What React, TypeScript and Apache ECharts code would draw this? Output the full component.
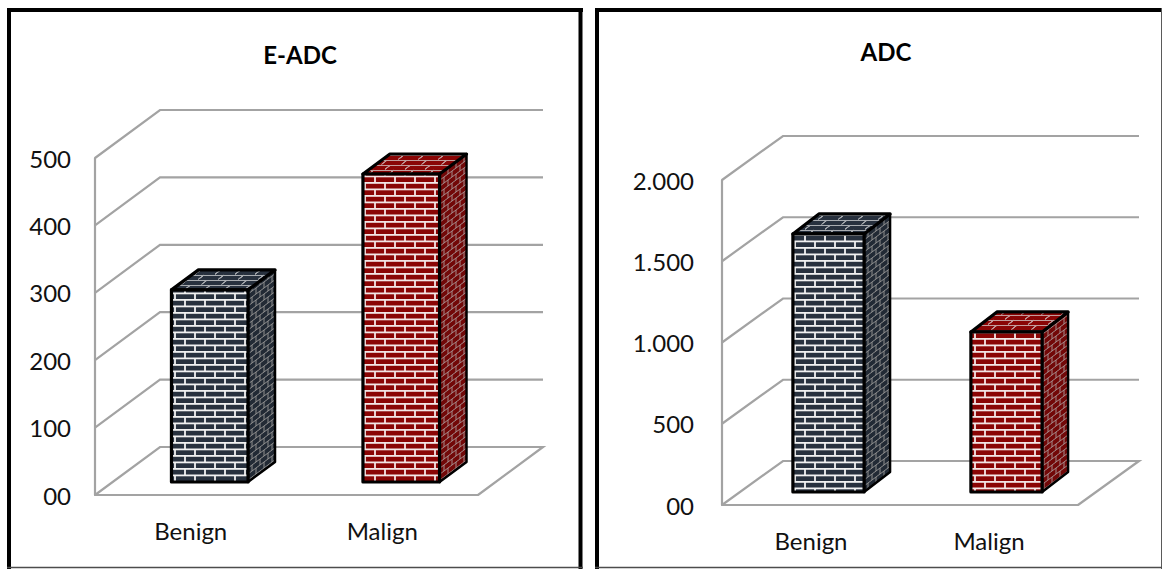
import React, { useEffect, useRef } from "react";
import * as echarts from "echarts";

const categories = ["Benign", "Malign"];
const eAdcValues = [285, 457];
const adcValues = [1588, 985];
const eAdcTicks = [0, 100, 200, 300, 400, 500];
const adcTicks = [0, 500, 1000, 1500, 2000];
const eAdcTitle = "E-ADC";
const adcTitle = "ADC";

const FONT = "Lato";
const GRID_GREY = "#a3a3a3";

type Palette = { brick: string; mortar: string; sideBrick: string; sideMortar: string; topMortar: string };

const slate: Palette = { brick: "#28313e", mortar: "#f1f1f1", sideBrick: "#222a35", sideMortar: "#8f8f8f", topMortar: "#a9acb0" };
const crimson: Palette = { brick: "#8a0505", mortar: "#f3e6e6", sideBrick: "#720808", sideMortar: "#a58a8a", topMortar: "#c29c9c" };

function makeCanvas(w: number, h: number, fill: string) {
  const c = document.createElement("canvas");
  c.width = w;
  c.height = h;
  const ctx = c.getContext("2d")!;
  ctx.fillStyle = fill;
  ctx.fillRect(0, 0, w, h);
  return { c, ctx };
}

// Upright running-bond bricks for the front face.
function frontTile(p: Palette) {
  const w = 20, row = 6.5, h = 13;
  const { c, ctx } = makeCanvas(w, h, p.brick);
  ctx.strokeStyle = p.mortar;
  ctx.lineWidth = 1.8;
  for (let k = 0; k < 2; k++) {
    const y = k * row + 0.9;
    ctx.beginPath();
    ctx.moveTo(0, y);
    ctx.lineTo(w, y);
    ctx.stroke();
    const x = k === 0 ? 5 : 15;
    ctx.beginPath();
    ctx.moveTo(x, y);
    ctx.lineTo(x, y + row);
    ctx.stroke();
  }
  return { image: c, imageWidth: w, imageHeight: h, repeat: "repeat" };
}

// Sheared bricks for the side face, courses climbing to the right.
function sideTile(p: Palette) {
  const w = 16, h = 12, row = 6;
  const { c, ctx } = makeCanvas(w, h, p.sideBrick);
  ctx.strokeStyle = p.sideMortar;
  ctx.lineWidth = 1;
  for (let k = -4; k < 8; k++) {
    const y0 = k * row;
    ctx.beginPath();
    ctx.moveTo(0, y0);
    ctx.lineTo(w, y0 - 12);
    ctx.stroke();
    for (let m = -2; m < 4; m++) {
      const x = m * 8 + (k % 2 === 0 ? 0 : 4);
      const y = y0 - 0.75 * x;
      ctx.beginPath();
      ctx.moveTo(x, y);
      ctx.lineTo(x, y + row);
      ctx.stroke();
    }
  }
  return { image: c, imageWidth: w, imageHeight: h, repeat: "repeat" };
}

// Foreshortened bricks for the top face, joints leaning with the depth direction.
function topTile(p: Palette) {
  const w = 20, h = 30, row = 5, lean = 20 / 3;
  const { c, ctx } = makeCanvas(w, h, p.brick);
  ctx.strokeStyle = p.topMortar;
  ctx.lineWidth = 1;
  for (let k = 0; k < 6; k++) {
    const y = k * row + 0.5;
    ctx.beginPath();
    ctx.moveTo(0, y);
    ctx.lineTo(w, y);
    ctx.stroke();
    for (let m = -2; m < 5; m++) {
      const x = m * w + (k % 2 === 0 ? 0 : 10) - k * lean;
      ctx.beginPath();
      for (let n = -2; n <= 2; n++) {
        const xx = x + n * 2 * w;
        ctx.moveTo(xx, y);
        ctx.lineTo(xx - lean * 0.75, y + row * 0.75);
      }
      ctx.stroke();
    }
  }
  return { image: c, imageWidth: w, imageHeight: h, repeat: "repeat" };
}

type Depth = { wallDx: number; wallDy: number; planeDx: number; planeDy: number; barDx: number; barDy: number };

const wallSeries = (xAxisIndex: number, ticks: number[], d: Depth) => ({
  type: "custom",
  xAxisIndex,
  yAxisIndex: xAxisIndex,
  z: 1,
  silent: true,
  data: ticks.map((t) => [0, t]),
  renderItem(params: any, api: any) {
    const v = api.value(1);
    const y = api.coord([0, v])[1];
    const { x: left, width } = params.coordSys;
    const right = left + width;
    const pts: number[][] = [
      [left, y],
      [left + d.wallDx, y - d.wallDy],
      [right + d.wallDx, y - d.wallDy],
    ];
    if (v === 0) pts.push([right, y]);
    return {
      type: "polyline",
      shape: { points: pts },
      style: { stroke: GRID_GREY, lineWidth: 2.2, fill: "none" },
    };
  },
});

const barSeries = (xAxisIndex: number, values: number[], d: Depth) => {
  const skins = [slate, crimson].map((p) => ({ front: frontTile(p), side: sideTile(p), top: topTile(p) }));
  return {
    type: "custom",
    xAxisIndex,
    yAxisIndex: xAxisIndex,
    z: 3,
    silent: true,
    data: values.map((v, i) => [i, v]),
    renderItem(params: any, api: any) {
      const i = api.value(0);
      const top = api.coord([i, api.value(1)]);
      const base = api.coord([i, 0]);
      const bw = api.size([1, 0])[0] * 0.4;
      const x0 = top[0] + d.planeDx - bw / 2;
      const x1 = x0 + bw;
      const yt = top[1] - d.planeDy;
      const yb = base[1] - d.planeDy;
      const skin = skins[params.dataIndex];
      const edge = { stroke: "#000", lineWidth: 3.2, lineJoin: "round" };
      return {
        type: "group",
        children: [
          {
            type: "polygon",
            shape: { points: [[x1, yt], [x1 + d.barDx, yt - d.barDy], [x1 + d.barDx, yb - d.barDy], [x1, yb]] },
            style: { fill: { ...skin.side, x: x1, y: yt }, ...edge, lineWidth: 2.4 },
          },
          {
            type: "polygon",
            shape: { points: [[x0, yt], [x0 + d.barDx, yt - d.barDy], [x1 + d.barDx, yt - d.barDy], [x1, yt]] },
            style: { fill: { ...skin.top, x: x0, y: yt }, ...edge },
          },
          {
            type: "rect",
            shape: { x: x0, y: yt, width: bw, height: yb - yt },
            style: { fill: { ...skin.front, x: x0 + 2, y: yt + 2 }, ...edge },
          },
        ],
      };
    },
  };
};

const frameLine = (x1: number, y1: number, x2: number, y2: number, stroke: string, lineWidth: number) => ({
  type: "line",
  silent: true,
  shape: { x1, y1, x2, y2 },
  style: { stroke, lineWidth },
});

const axisText = { fontFamily: FONT, fontSize: 24, color: "#111111" };

export default function App() {
  const ref = useRef<HTMLDivElement>(null);
  useEffect(() => {
    const chart = echarts.init(ref.current!, undefined, { renderer: "svg" });
    const leftDepth: Depth = { wallDx: 65, wallDy: 48, planeDx: 19, planeDy: 13, barDx: 27, barDy: 20 };
    const rightDepth: Depth = { wallDx: 61, wallDy: 44, planeDx: 17.5, planeDy: 13, barDx: 26, barDy: 20 };
    chart.setOption({
      animation: false,
      backgroundColor: "#ffffff",
      title: [
        { text: eAdcTitle, left: 295, top: 37, textAlign: "center", textStyle: { fontFamily: FONT, fontSize: 24, fontWeight: "bold", color: "#000" } },
        { text: adcTitle, left: 881, top: 34, textAlign: "center", textStyle: { fontFamily: FONT, fontSize: 24, fontWeight: "bold", color: "#000" } },
      ],
      grid: [
        { left: 95, top: 158, width: 383, height: 337 },
        { left: 722, top: 180, width: 356, height: 325 },
      ],
      xAxis: [0, 1].map((gridIndex) => ({
        type: "category",
        gridIndex,
        data: categories,
        axisLine: { lineStyle: { color: GRID_GREY, width: 2.2 } },
        axisTick: { show: false },
        axisLabel: { ...axisText, margin: 23 },
      })),
      yAxis: [
        {
          type: "value",
          gridIndex: 0,
          min: 0,
          max: 500,
          interval: 100,
          axisLine: { show: true, lineStyle: { color: GRID_GREY, width: 2.2 } },
          axisTick: { show: false },
          splitLine: { show: false },
          axisLabel: { ...axisText, margin: 24, padding: [6, 0, 0, 0], formatter: (v: number) => (v === 0 ? "00" : String(v)) },
        },
        {
          type: "value",
          gridIndex: 1,
          min: 0,
          max: 2000,
          interval: 500,
          axisLine: { show: true, lineStyle: { color: GRID_GREY, width: 2.2 } },
          axisTick: { show: false },
          splitLine: { show: false },
          axisLabel: {
            ...axisText,
            margin: 28,
            padding: [6, 0, 0, 0],
            formatter: (v: number) => (v === 0 ? "00" : v >= 1000 ? `${Math.floor(v / 1000)}.${String(v % 1000).padStart(3, "0")}` : String(v)),
          },
        },
      ],
      series: [
        wallSeries(0, eAdcTicks, leftDepth),
        wallSeries(1, adcTicks, rightDepth),
        barSeries(0, eAdcValues, leftDepth),
        barSeries(1, adcValues, rightDepth),
      ],
      graphic: [
        frameLine(7, 10, 583, 10, "#000", 4),
        frameLine(9, 8, 9, 569, "#000", 4),
        frameLine(580.5, 8, 580.5, 569, "#000", 4),
        frameLine(7, 567.5, 583, 567.5, "#4d4d4d", 1.5),
        frameLine(595, 10, 1162, 10, "#000", 4),
        frameLine(597, 8, 597, 569, "#000", 4),
        frameLine(1161.5, 8, 1161.5, 569, "#5a5a5a", 1),
        frameLine(595, 567.5, 1162, 567.5, "#4d4d4d", 1.5),
      ],
    });
    return () => chart.dispose();
  }, []);
  return <div ref={ref} style={{ position: "absolute", left: 0, top: 0, width: 1163, height: 569 }} />;
}
